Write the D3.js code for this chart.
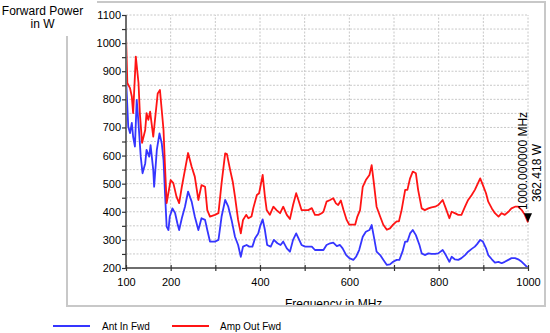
<!DOCTYPE html>
<html><head><meta charset="utf-8">
<script src="https://cdn.jsdelivr.net/npm/d3@7"></script>
<style>body{margin:0;background:#fff}svg{display:block;font-family:"Liberation Sans",Arial,sans-serif}</style>
</head><body>
<svg id="c" width="550" height="333"></svg>
<script>
const xTickValues = [100,200,300,400,500,600,700,800,900,1000];
const xTickLabels = [100,200,400,600,800,1000];
const yTickValues = [200,250,300,350,400,450,500,550,600,650,700,750,800,850,900,950,1000,1050,1100];
const yTickLabels = [200,300,400,500,600,700,800,900,1000,1100];
const seriesNames = ["Ant In Fwd","Amp Out Fwd"];
const seriesColors = ["#3535ff","#ff1414"];

const ampOutFwd = [[100,1030],[103,858],[109,840],[113,810],[116,751],[122,952],[128,858],[131,751],[136,645],[143,691],[146,751],[150,727],[154,756],[161,667],[171,821],[176,833],[180,762],[184,691],[187,573],[191,431],[200,513],[206,502],[213,454],[219,431],[225,489],[232,549],[239,609],[247,560],[254,525],[262,442],[269,495],[277,489],[282,406],[288,383],[299,389],[307,395],[314,502],[322,608],[326,605],[333,550],[339,507],[344,454],[351,371],[357,323],[362,371],[369,389],[374,377],[381,383],[385,413],[393,460],[398,466],[406,531],[411,454],[415,406],[422,389],[430,418],[437,406],[445,395],[452,418],[460,389],[467,374],[474,424],[481,466],[486,442],[493,406],[501,406],[508,406],[516,413],[523,389],[531,389],[538,395],[542,400],[549,436],[557,442],[564,448],[570,430],[575,424],[581,440],[587,406],[594,371],[600,354],[606,354],[613,354],[618,383],[624,406],[630,489],[637,513],[645,531],[650,566],[655,501],[661,418],[669,383],[676,354],[684,336],[691,341],[698,354],[706,366],[711,366],[717,406],[725,478],[730,478],[736,519],[742,543],[749,537],[754,478],[762,412],[769,406],[777,412],[784,416],[792,418],[799,424],[809,442],[816,412],[824,377],[829,400],[836,395],[844,389],[851,389],[859,418],[866,442],[874,460],[881,478],[886,495],[893,519],[899,495],[906,466],[911,436],[919,412],[926,395],[934,383],[941,395],[948,389],[956,400],[963,412],[971,418],[978,418],[986,406],[993,389],[1000,362.418]];

const antInFwd = [[100,880],[102,809],[105,703],[109,680],[113,716],[116,667],[120,632],[124,798],[128,715],[133,596],[137,537],[143,572],[146,620],[152,596],[155,637],[161,549],[163,489],[169,620],[175,679],[180,644],[184,584],[187,478],[191,347],[195,335],[198,383],[204,412],[210,395],[215,359],[219,335],[225,377],[232,418],[239,472],[247,436],[254,383],[262,335],[269,377],[277,371],[282,335],[288,294],[299,294],[307,300],[314,383],[322,442],[329,418],[337,366],[344,311],[351,282],[357,240],[362,276],[370,282],[376,276],[383,276],[389,306],[396,323],[400,347],[406,373],[411,335],[416,282],[424,276],[431,300],[439,288],[446,282],[452,294],[460,270],[467,258],[474,300],[481,323],[486,306],[493,282],[501,276],[508,276],[516,276],[523,264],[531,264],[538,264],[542,264],[549,282],[557,288],[564,290],[572,278],[579,282],[585,270],[593,246],[600,235],[609,229],[615,240],[622,264],[630,311],[637,329],[645,335],[650,353],[655,311],[661,258],[669,246],[676,229],[684,211],[691,213],[698,222],[706,229],[712,229],[719,258],[725,294],[730,294],[736,323],[742,335],[749,317],[757,282],[762,252],[769,246],[777,252],[784,250],[792,250],[799,252],[809,264],[816,246],[824,222],[829,240],[836,231],[844,229],[851,235],[859,246],[866,258],[874,268],[881,276],[886,285],[893,300],[899,294],[906,270],[911,246],[919,231],[926,219],[934,222],[941,217],[948,222],[956,229],[963,235],[971,235],[978,231],[986,222],[993,211],[1000,200]];

const markerFreq = 1000, markerValue = 362.418;
const markerLines = ["1000.000000 MHz","362.418 W"];

const svg = d3.select("#c");
const x = d3.scaleLinear().domain([100,1000]).range([126,528]);
const y = d3.scaleLinear().domain([200,1100]).range([268,15]);

svg.append("defs").append("clipPath").attr("id","clipT")
  .append("rect").attr("x",0).attr("y",0).attr("width",550).attr("height",306);

// grid
const g = svg.append("g");
g.selectAll("line.hg").data(yTickValues.filter(v=>v>200)).join("line")
  .attr("x1",x(100)).attr("x2",x(1000)).attr("y1",d=>y(d)).attr("y2",d=>y(d))
  .attr("stroke","#c8c8c8").attr("stroke-width",1).attr("stroke-dasharray","2,1.5");
g.selectAll("line.vg").data(xTickValues.filter(v=>v>100)).join("line")
  .attr("x1",d=>x(d)).attr("x2",d=>x(d)).attr("y1",y(200)).attr("y2",y(1100))
  .attr("stroke","#c8c8c8").attr("stroke-width",1).attr("stroke-dasharray","2,1.5");

// series
const line = d3.line().x(d=>x(d[0])).y(d=>y(d[1]));
[antInFwd, ampOutFwd].forEach((s,i)=>{
  svg.append("path").datum(s).attr("d",line).attr("fill","none")
    .attr("stroke",seriesColors[i]).attr("stroke-width",1.8).attr("stroke-linejoin","round");
});

// axes
const yAxis = d3.axisLeft(y).tickValues(yTickValues).tickSize(4).tickPadding(1)
  .tickFormat(d=>yTickLabels.includes(d)?d:"");
const ya = svg.append("g").attr("transform",`translate(${x(100)},0)`).call(yAxis);
const xAxis = d3.axisBottom(x).tickValues(xTickValues).tickSize(3).tickPadding(7)
  .tickFormat(d=>xTickLabels.includes(d)?d:"");
const xa = svg.append("g").attr("transform",`translate(0,${y(200)})`).call(xAxis);
[ya,xa].forEach(a=>{
  a.select(".domain").attr("stroke","#6e6e6e").attr("stroke-width",2);
  a.selectAll(".tick line").attr("stroke","#333").attr("stroke-width",1.2);
  a.selectAll(".tick text").attr("fill","#000").style("font-size","11px")
    .style("font-family","'Liberation Sans',Arial,sans-serif");
});
xa.selectAll(".tick line").attr("y1",-3);
xa.select(".domain").attr("d",`M${x(100)},0H${x(1000)}`);
ya.select(".domain").attr("d",`M0,${y(200)}V${y(1100)}`);

// marker
const mx = x(markerFreq), my = y(markerValue);
svg.append("path").attr("d",`M${mx-4},${my-9}L${mx+4},${my-9}L${mx},${my}Z`).attr("fill","#000");
svg.append("text").attr("transform",`translate(${mx-1},${210}) rotate(-90)`)
  .style("font-size","12px").attr("fill","#000").text(markerLines[0]);
svg.append("text").attr("transform",`translate(${mx+13},${202}) rotate(-90)`)
  .style("font-size","12px").attr("fill","#000").text(markerLines[1]);

// x title (clipped by frame)
svg.append("text").attr("clip-path","url(#clipT)").attr("x",285).attr("y",307.5)
  .style("font-size","12px").attr("fill","#000").text("Frequency in MHz");

// frame
svg.append("path").attr("d","M97,2H545V306H67V36").attr("fill","none")
  .attr("stroke","#c8c8c8").attr("stroke-width",2);

// y title
svg.append("text").attr("x",42.5).attr("y",15).attr("text-anchor","middle")
  .style("font-size","12px").attr("fill","#000").text("Forward Power");
svg.append("text").attr("x",42.5).attr("y",28).attr("text-anchor","middle")
  .style("font-size","12px").attr("fill","#000").text("in W");

// legend
const legX = [53,172], legTX = [102,220];
seriesNames.forEach((n,i)=>{
  svg.append("line").attr("x1",legX[i]).attr("x2",legX[i]+37).attr("y1",326).attr("y2",326)
    .attr("stroke",seriesColors[i]).attr("stroke-width",1.8);
  svg.append("text").attr("x",legTX[i]).attr("y",329.5).style("font-size","10px")
    .attr("fill","#000").text(n);
});
</script>
</body></html>
